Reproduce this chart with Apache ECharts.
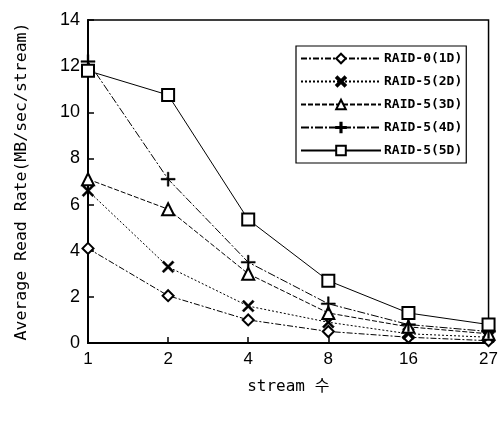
<!DOCTYPE html>
<html>
<head>
<meta charset="utf-8">
<script src="https://cdn.jsdelivr.net/npm/echarts@6/dist/echarts.min.js"></script>
<style>
  html, body { margin: 0; padding: 0; background: #fff; }
  #chart { width: 501px; height: 425px; }
</style>
</head>
<body>
<div id="chart"></div>
<script>
const streams = ['1', '2', '4', '8', '16', '27'];
const raid0_1d = [4.1, 2.05, 1.0, 0.5, 0.25, 0.1];
const raid5_2d = [6.6, 3.3, 1.6, 0.9, 0.4, 0.25];
const raid5_3d = [7.1, 5.8, 3.0, 1.3, 0.7, 0.4];
const raid5_4d = [12.2, 7.1, 3.5, 1.7, 0.8, 0.5];
const raid5_5d = [11.8, 10.75, 5.35, 2.7, 1.3, 0.8];

const crossPath = 'path://M1.3,0 L5,3.7 L8.7,0 L10,1.3 L6.3,5 L10,8.7 L8.7,10 L5,6.3 L1.3,10 L0,8.7 L3.7,5 L0,1.3 Z';
const plusPath = 'path://M4.4,0 H5.6 V4.4 H10 V5.6 H5.6 V10 H4.4 V5.6 H0 V4.4 H4.4 Z';

function mkSeries(name, data, symbol, size, lineType) {
  const isPath = symbol.startsWith('path');
  return {
    name: name,
    type: 'line',
    data: data,
    symbol: symbol,
    symbolSize: size,
    showAllSymbol: true,
    itemStyle: { color: '#000', borderColor: '#000', borderWidth: isPath ? 0.5 : 1.8 },
    lineStyle: { color: '#000', width: 1, type: lineType },
    emphasis: { disabled: true }
  };
}

const chart = echarts.init(document.getElementById('chart'));
chart.setOption({
  animation: false,
  backgroundColor: '#fff',
  grid: { left: 88, right: 9, top: 20, bottom: 82, show: true, borderColor: '#000', borderWidth: 1.5 },
  legend: {
    orient: 'vertical',
    left: 296, top: 46,
    itemWidth: 80, itemHeight: 12, itemGap: 10,
    padding: [6, 4, 6, 4],
    borderColor: '#000', borderWidth: 1.2,
    backgroundColor: '#fff',
    textStyle: { fontFamily: 'DejaVu Sans Mono', fontWeight: 'bold', fontSize: 13, color: '#000', padding: [0, 0, 0, -2] },
    data: ['RAID-0(1D)', 'RAID-5(2D)', 'RAID-5(3D)', 'RAID-5(4D)', 'RAID-5(5D)']
  },
  xAxis: {
    type: 'category',
    data: streams,
    boundaryGap: false,
    name: 'stream 수',
    nameLocation: 'middle',
    nameGap: 36,
    nameTextStyle: { fontFamily: 'DejaVu Sans Mono, Noto Sans CJK KR', fontSize: 16, color: '#000' },
    axisLine: { lineStyle: { color: '#000', width: 2 } },
    axisTick: { inside: true, length: 6, alignWithLabel: true, lineStyle: { color: '#000', width: 1.5 } },
    axisLabel: { fontFamily: 'Liberation Sans', fontSize: 17, color: '#000', margin: 8 }
  },
  yAxis: {
    type: 'value',
    min: 0, max: 14, interval: 2,
    name: 'Average Read Rate(MB/sec/stream)',
    nameLocation: 'middle',
    nameGap: 58,
    nameTextStyle: { fontFamily: 'DejaVu Sans Mono', fontSize: 16.5, color: '#000' },
    splitLine: { show: false },
    axisLine: { show: true, lineStyle: { color: '#000', width: 2 } },
    axisTick: { show: true, inside: true, length: 6, lineStyle: { color: '#000', width: 1.5 } },
    axisLabel: { fontFamily: 'Liberation Sans', fontSize: 18, color: '#000', margin: 8 }
  },
  series: [
    mkSeries('RAID-0(1D)', raid0_1d, 'emptyDiamond', 11, [6, 2, 2, 2]),
    mkSeries('RAID-5(2D)', raid5_2d, crossPath, 12, [2, 2]),
    mkSeries('RAID-5(3D)', raid5_3d, 'emptyTriangle', 12, [5, 2]),
    mkSeries('RAID-5(4D)', raid5_4d, plusPath, 14, [8, 2, 2, 2]),
    mkSeries('RAID-5(5D)', raid5_5d, 'emptyRect', 12, 'solid')
  ]
});
</script>
</body>
</html>
